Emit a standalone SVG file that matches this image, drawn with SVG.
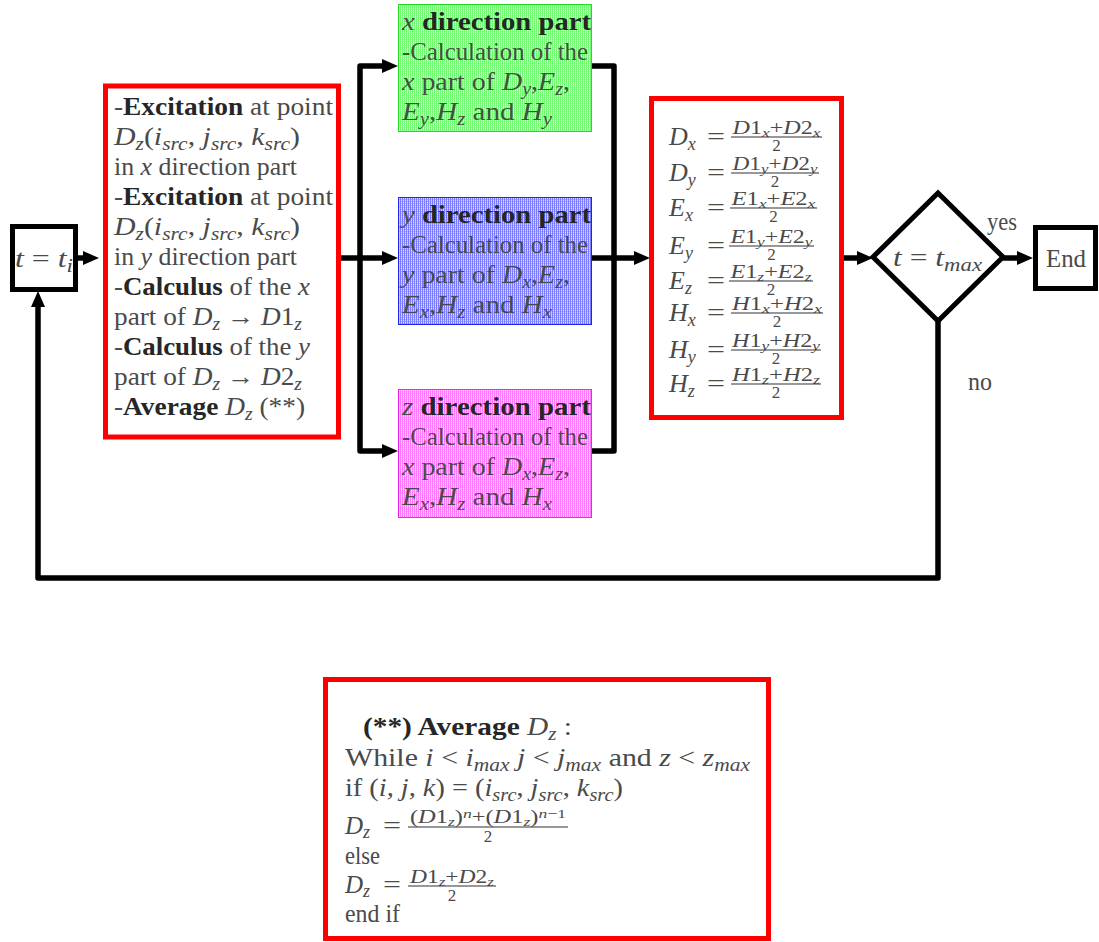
<svg xmlns="http://www.w3.org/2000/svg" width="1099" height="942" viewBox="0 0 1099 942">
<style>
  text { font-family: "Liberation Serif", "DejaVu Serif", serif; font-size: 25px; fill: #4a4a4a; }
  .i { font-style: italic; }
  .b { font-weight: bold; fill: #262626; }
  .sub { font-size: 18px; }
  .lab { font-size: 26px; }
  .n { font-size: 18px; }
  .d { font-size: 17px; }
  .ns { font-size: 13px; }
  .line { fill: none; stroke: #000; stroke-width: 5.5; stroke-linejoin: round; }
  .box { fill: #fff; stroke: #000; stroke-width: 5; }
  .red { fill: #fff; stroke: #f00; stroke-width: 5; }
  .bar { stroke: #333; stroke-width: 1.2; }
</style>
<defs>
  <marker id="arr" markerUnits="userSpaceOnUse" markerWidth="18" markerHeight="16" refX="5" refY="7" orient="auto">
    <path d="M0,0 L16,7 L0,14 z" fill="#000"/>
  </marker>
  <!-- stippled fills -->
  <pattern id="pg" width="2" height="2" patternUnits="userSpaceOnUse">
    <rect width="2" height="2" fill="#d6ffd6"/>
    <rect width="1" height="2" fill="#72fa72"/>
    <rect x="1" y="1" width="1" height="1" fill="#a8fca8"/>
  </pattern>
  <pattern id="pb" width="2" height="2" patternUnits="userSpaceOnUse">
    <rect width="2" height="2" fill="#dcdcff"/>
    <rect width="1" height="2" fill="#7a7aff"/>
    <rect x="1" y="1" width="1" height="1" fill="#b0b0ff"/>
  </pattern>
  <pattern id="pm" width="2" height="2" patternUnits="userSpaceOnUse">
    <rect width="2" height="2" fill="#ffd8ff"/>
    <rect width="1" height="2" fill="#ff78ff"/>
    <rect x="1" y="1" width="1" height="1" fill="#ffb0ff"/>
  </pattern>
</defs>

<!-- connectors -->
<g id="connectors">
  <path class="line" d="M78,258 H88" marker-end="url(#arr)"/>
  <path class="line" d="M341,258 H387" marker-end="url(#arr)"/>
  <path class="line" d="M360,258 V66 H387" marker-end="url(#arr)"/>
  <path class="line" d="M360,258 V451 H387" marker-end="url(#arr)"/>
  <path class="line" d="M592,66 H614 V451 H592"/>
  <path class="line" d="M592,258 H639" marker-end="url(#arr)"/>
  <path class="line" d="M844,258 H862" marker-end="url(#arr)"/>
  <path class="line" d="M1003,258 H1022" marker-end="url(#arr)"/>
  <path class="line" d="M938,321 V578 H38 V302" marker-end="url(#arr)"/>
  <text x="987" y="230" textLength="30" lengthAdjust="spacingAndGlyphs">yes</text>
  <text x="968" y="390" textLength="24" lengthAdjust="spacingAndGlyphs">no</text>
</g>

<!-- start -->
<g id="start">
  <rect class="box" x="12.5" y="226.5" width="63" height="63"/>
  <text x="15" y="267" textLength="58" lengthAdjust="spacingAndGlyphs"><tspan class="i">t</tspan> = <tspan class="i">t</tspan><tspan class="i sub" dy="5">i</tspan></text>
</g>

<!-- excitation / calculus step -->
<g id="excitation">
  <rect class="red" x="105.5" y="86" width="233" height="351"/>
  <text x="114" y="115" textLength="219" lengthAdjust="spacingAndGlyphs">-<tspan class="b">Excitation</tspan> at point</text>
  <text x="114" y="145" textLength="186" lengthAdjust="spacingAndGlyphs"><tspan class="i">D</tspan><tspan class="i sub" dy="5">z</tspan><tspan dy="-5">(</tspan><tspan class="i">i</tspan><tspan class="i sub" dy="5">src</tspan><tspan dy="-5">, </tspan><tspan class="i">j</tspan><tspan class="i sub" dy="5">src</tspan><tspan dy="-5">, </tspan><tspan class="i">k</tspan><tspan class="i sub" dy="5">src</tspan><tspan dy="-5">)</tspan></text>
  <text x="114" y="175" textLength="183" lengthAdjust="spacingAndGlyphs">in <tspan class="i">x</tspan> direction part</text>
  <text x="114" y="205" textLength="219" lengthAdjust="spacingAndGlyphs">-<tspan class="b">Excitation</tspan> at point</text>
  <text x="114" y="235" textLength="186" lengthAdjust="spacingAndGlyphs"><tspan class="i">D</tspan><tspan class="i sub" dy="5">z</tspan><tspan dy="-5">(</tspan><tspan class="i">i</tspan><tspan class="i sub" dy="5">src</tspan><tspan dy="-5">, </tspan><tspan class="i">j</tspan><tspan class="i sub" dy="5">src</tspan><tspan dy="-5">, </tspan><tspan class="i">k</tspan><tspan class="i sub" dy="5">src</tspan><tspan dy="-5">)</tspan></text>
  <text x="114" y="265" textLength="183" lengthAdjust="spacingAndGlyphs">in <tspan class="i">y</tspan> direction part</text>
  <text x="114" y="295" textLength="196" lengthAdjust="spacingAndGlyphs">-<tspan class="b">Calculus</tspan> of the <tspan class="i">x</tspan></text>
  <text x="114" y="325" textLength="188" lengthAdjust="spacingAndGlyphs">part of <tspan class="i">D</tspan><tspan class="i sub" dy="5">z</tspan><tspan dy="-5"> → </tspan><tspan class="i">D</tspan>1<tspan class="i sub" dy="5">z</tspan></text>
  <text x="114" y="355" textLength="196" lengthAdjust="spacingAndGlyphs">-<tspan class="b">Calculus</tspan> of the <tspan class="i">y</tspan></text>
  <text x="114" y="385" textLength="188" lengthAdjust="spacingAndGlyphs">part of <tspan class="i">D</tspan><tspan class="i sub" dy="5">z</tspan><tspan dy="-5"> → </tspan><tspan class="i">D</tspan>2<tspan class="i sub" dy="5">z</tspan></text>
  <text x="114" y="415" textLength="191" lengthAdjust="spacingAndGlyphs">-<tspan class="b">Average</tspan> <tspan class="i">D</tspan><tspan class="i sub" dy="5">z</tspan><tspan dy="-5"> (**)</tspan></text>
</g>

<!-- x direction part -->
<g id="xpart">
  <rect x="398.5" y="4.5" width="193" height="127" fill="url(#pg)" stroke="#22dd22" stroke-width="1"/>
  <text x="402" y="30" textLength="189" lengthAdjust="spacingAndGlyphs"><tspan class="i">x</tspan> <tspan class="b">direction part</tspan></text>
  <text x="402" y="60" textLength="186" lengthAdjust="spacingAndGlyphs">-Calculation of the</text>
  <text x="402" y="90" textLength="168" lengthAdjust="spacingAndGlyphs"><tspan class="i">x</tspan> part of <tspan class="i">D</tspan><tspan class="i sub" dy="5">y</tspan><tspan dy="-5">,</tspan><tspan class="i">E</tspan><tspan class="i sub" dy="5">z</tspan><tspan dy="-5">,</tspan></text>
  <text x="402" y="120" textLength="150" lengthAdjust="spacingAndGlyphs"><tspan class="i">E</tspan><tspan class="i sub" dy="5">y</tspan><tspan dy="-5">,</tspan><tspan class="i">H</tspan><tspan class="i sub" dy="5">z</tspan><tspan dy="-5"> and </tspan><tspan class="i">H</tspan><tspan class="i sub" dy="5">y</tspan></text>
</g>

<!-- y direction part -->
<g id="ypart">
  <rect x="398.5" y="197.5" width="193" height="127" fill="url(#pb)" stroke="#2222ee" stroke-width="1"/>
  <text x="402" y="223" textLength="189" lengthAdjust="spacingAndGlyphs"><tspan class="i">y</tspan> <tspan class="b">direction part</tspan></text>
  <text x="402" y="253" textLength="186" lengthAdjust="spacingAndGlyphs">-Calculation of the</text>
  <text x="402" y="283" textLength="168" lengthAdjust="spacingAndGlyphs"><tspan class="i">y</tspan> part of <tspan class="i">D</tspan><tspan class="i sub" dy="5">x</tspan><tspan dy="-5">,</tspan><tspan class="i">E</tspan><tspan class="i sub" dy="5">z</tspan><tspan dy="-5">,</tspan></text>
  <text x="402" y="313" textLength="150" lengthAdjust="spacingAndGlyphs"><tspan class="i">E</tspan><tspan class="i sub" dy="5">x</tspan><tspan dy="-5">,</tspan><tspan class="i">H</tspan><tspan class="i sub" dy="5">z</tspan><tspan dy="-5"> and </tspan><tspan class="i">H</tspan><tspan class="i sub" dy="5">x</tspan></text>
</g>

<!-- z direction part -->
<g id="zpart">
  <rect x="398.5" y="389.5" width="193" height="128" fill="url(#pm)" stroke="#ee22ee" stroke-width="1"/>
  <text x="402" y="415" textLength="189" lengthAdjust="spacingAndGlyphs"><tspan class="i">z</tspan> <tspan class="b">direction part</tspan></text>
  <text x="402" y="445" textLength="186" lengthAdjust="spacingAndGlyphs">-Calculation of the</text>
  <text x="402" y="475" textLength="168" lengthAdjust="spacingAndGlyphs"><tspan class="i">x</tspan> part of <tspan class="i">D</tspan><tspan class="i sub" dy="5">x</tspan><tspan dy="-5">,</tspan><tspan class="i">E</tspan><tspan class="i sub" dy="5">z</tspan><tspan dy="-5">,</tspan></text>
  <text x="402" y="505" textLength="150" lengthAdjust="spacingAndGlyphs"><tspan class="i">E</tspan><tspan class="i sub" dy="5">x</tspan><tspan dy="-5">,</tspan><tspan class="i">H</tspan><tspan class="i sub" dy="5">z</tspan><tspan dy="-5"> and </tspan><tspan class="i">H</tspan><tspan class="i sub" dy="5">x</tspan></text>
</g>

<!-- averaging of the fields -->
<g id="average">
  <rect class="red" x="651.5" y="98.5" width="190" height="319"/>
  <!-- D_x -->
  <text x="669" y="145" class="lab"><tspan class="i">D</tspan><tspan class="i sub" dy="5">x</tspan></text>
  <text x="707" y="145" textLength="18" lengthAdjust="spacingAndGlyphs">=</text>
  <text x="776.5" y="134" text-anchor="middle" class="n" textLength="88" lengthAdjust="spacingAndGlyphs"><tspan class="i">D</tspan>1<tspan class="i ns" dy="3">x</tspan><tspan dy="-3">+</tspan><tspan class="i">D</tspan>2<tspan class="i ns" dy="3">x</tspan></text>
  <line class="bar" x1="731" y1="137" x2="822" y2="137"/>
  <text x="776.5" y="151" text-anchor="middle" class="d">2</text>
  <!-- D_y -->
  <text x="669" y="181" class="lab"><tspan class="i">D</tspan><tspan class="i sub" dy="5">y</tspan></text>
  <text x="707" y="181" textLength="18" lengthAdjust="spacingAndGlyphs">=</text>
  <text x="775" y="170" text-anchor="middle" class="n" textLength="85" lengthAdjust="spacingAndGlyphs"><tspan class="i">D</tspan>1<tspan class="i ns" dy="3">y</tspan><tspan dy="-3">+</tspan><tspan class="i">D</tspan>2<tspan class="i ns" dy="3">y</tspan></text>
  <line class="bar" x1="731" y1="173" x2="819" y2="173"/>
  <text x="775" y="187" text-anchor="middle" class="d">2</text>
  <!-- E_x -->
  <text x="669" y="216" class="lab"><tspan class="i">E</tspan><tspan class="i sub" dy="5">x</tspan></text>
  <text x="707" y="216" textLength="18" lengthAdjust="spacingAndGlyphs">=</text>
  <text x="773.5" y="205" text-anchor="middle" class="n" textLength="84" lengthAdjust="spacingAndGlyphs"><tspan class="i">E</tspan>1<tspan class="i ns" dy="3">x</tspan><tspan dy="-3">+</tspan><tspan class="i">E</tspan>2<tspan class="i ns" dy="3">x</tspan></text>
  <line class="bar" x1="730" y1="208" x2="817" y2="208"/>
  <text x="773.5" y="222" text-anchor="middle" class="d">2</text>
  <!-- E_y -->
  <text x="669" y="254" class="lab"><tspan class="i">E</tspan><tspan class="i sub" dy="5">y</tspan></text>
  <text x="707" y="254" textLength="18" lengthAdjust="spacingAndGlyphs">=</text>
  <text x="771.5" y="243" text-anchor="middle" class="n" textLength="82" lengthAdjust="spacingAndGlyphs"><tspan class="i">E</tspan>1<tspan class="i ns" dy="3">y</tspan><tspan dy="-3">+</tspan><tspan class="i">E</tspan>2<tspan class="i ns" dy="3">y</tspan></text>
  <line class="bar" x1="729" y1="246" x2="814" y2="246"/>
  <text x="771.5" y="260" text-anchor="middle" class="d">2</text>
  <!-- E_z -->
  <text x="669" y="289" class="lab"><tspan class="i">E</tspan><tspan class="i sub" dy="5">z</tspan></text>
  <text x="707" y="289" textLength="18" lengthAdjust="spacingAndGlyphs">=</text>
  <text x="771" y="278" text-anchor="middle" class="n" textLength="81" lengthAdjust="spacingAndGlyphs"><tspan class="i">E</tspan>1<tspan class="i ns" dy="3">z</tspan><tspan dy="-3">+</tspan><tspan class="i">E</tspan>2<tspan class="i ns" dy="3">z</tspan></text>
  <line class="bar" x1="729" y1="281" x2="813" y2="281"/>
  <text x="771" y="295" text-anchor="middle" class="d">2</text>
  <!-- H_x -->
  <text x="669" y="321" class="lab"><tspan class="i">H</tspan><tspan class="i sub" dy="5">x</tspan></text>
  <text x="707" y="321" textLength="18" lengthAdjust="spacingAndGlyphs">=</text>
  <text x="777" y="310" text-anchor="middle" class="n" textLength="90" lengthAdjust="spacingAndGlyphs"><tspan class="i">H</tspan>1<tspan class="i ns" dy="3">x</tspan><tspan dy="-3">+</tspan><tspan class="i">H</tspan>2<tspan class="i ns" dy="3">x</tspan></text>
  <line class="bar" x1="731" y1="313" x2="823" y2="313"/>
  <text x="777" y="327" text-anchor="middle" class="d">2</text>
  <!-- H_y -->
  <text x="669" y="358" class="lab"><tspan class="i">H</tspan><tspan class="i sub" dy="5">y</tspan></text>
  <text x="707" y="358" textLength="18" lengthAdjust="spacingAndGlyphs">=</text>
  <text x="776" y="347" text-anchor="middle" class="n" textLength="88" lengthAdjust="spacingAndGlyphs"><tspan class="i">H</tspan>1<tspan class="i ns" dy="3">y</tspan><tspan dy="-3">+</tspan><tspan class="i">H</tspan>2<tspan class="i ns" dy="3">y</tspan></text>
  <line class="bar" x1="731" y1="350" x2="821" y2="350"/>
  <text x="776" y="364" text-anchor="middle" class="d">2</text>
  <!-- H_z -->
  <text x="669" y="392" class="lab"><tspan class="i">H</tspan><tspan class="i sub" dy="5">z</tspan></text>
  <text x="707" y="392" textLength="18" lengthAdjust="spacingAndGlyphs">=</text>
  <text x="776" y="381" text-anchor="middle" class="n" textLength="88" lengthAdjust="spacingAndGlyphs"><tspan class="i">H</tspan>1<tspan class="i ns" dy="3">z</tspan><tspan dy="-3">+</tspan><tspan class="i">H</tspan>2<tspan class="i ns" dy="3">z</tspan></text>
  <line class="bar" x1="731" y1="384" x2="821" y2="384"/>
  <text x="776" y="398" text-anchor="middle" class="d">2</text>
</g>

<!-- loop test -->
<g id="test">
  <polygon points="938,193 1003,257 938,321 873,257" fill="#fff" stroke="#000" stroke-width="5"/>
  <text x="893" y="266" textLength="89" lengthAdjust="spacingAndGlyphs"><tspan class="i">t</tspan> = <tspan class="i">t</tspan><tspan class="i sub" dy="5">max</tspan></text>
</g>

<!-- end -->
<g id="end">
  <rect class="box" x="1035.5" y="227.5" width="60" height="61"/>
  <text x="1046" y="267" textLength="40" lengthAdjust="spacingAndGlyphs">End</text>
</g>

<!-- note: averaging of D_z -->
<g id="note">
  <rect class="red" x="325.5" y="679.5" width="443" height="259"/>
  <text x="363" y="735" textLength="209" lengthAdjust="spacingAndGlyphs"><tspan class="b">(**)  Average</tspan> <tspan class="i">D</tspan><tspan class="i sub" dy="5">z</tspan><tspan dy="-5"> :</tspan></text>
  <text x="345" y="766" textLength="405" lengthAdjust="spacingAndGlyphs">While <tspan class="i">i</tspan> &lt; <tspan class="i">i</tspan><tspan class="i sub" dy="5">max</tspan><tspan dy="-5"> </tspan><tspan class="i">j</tspan> &lt; <tspan class="i">j</tspan><tspan class="i sub" dy="5">max</tspan><tspan dy="-5"> and </tspan><tspan class="i">z</tspan> &lt; <tspan class="i">z</tspan><tspan class="i sub" dy="5">max</tspan></text>
  <text x="345" y="796" textLength="278" lengthAdjust="spacingAndGlyphs">if (<tspan class="i">i, j, k</tspan>) = (<tspan class="i">i</tspan><tspan class="i sub" dy="5">src</tspan><tspan dy="-5">, </tspan><tspan class="i">j</tspan><tspan class="i sub" dy="5">src</tspan><tspan dy="-5">, </tspan><tspan class="i">k</tspan><tspan class="i sub" dy="5">src</tspan><tspan dy="-5">)</tspan></text>
  <text x="345" y="834"><tspan class="i">D</tspan><tspan class="i sub" dy="4">z</tspan></text>
  <text x="383" y="834" textLength="18" lengthAdjust="spacingAndGlyphs">=</text>
  <text x="488" y="823" text-anchor="middle" class="n" textLength="156" lengthAdjust="spacingAndGlyphs">(<tspan class="i">D</tspan>1<tspan class="i ns" dy="3">z</tspan><tspan dy="-3">)</tspan><tspan class="i ns" dy="-5">n</tspan><tspan dy="5">+(</tspan><tspan class="i">D</tspan>1<tspan class="i ns" dy="3">z</tspan><tspan dy="-3">)</tspan><tspan class="i ns" dy="-5">n</tspan><tspan class="ns">−1</tspan></text>
  <line class="bar" x1="408" y1="827" x2="568" y2="827"/>
  <text x="488" y="842" text-anchor="middle" class="d">2</text>
  <text x="345" y="864" textLength="35" lengthAdjust="spacingAndGlyphs">else</text>
  <text x="345" y="893"><tspan class="i">D</tspan><tspan class="i sub" dy="4">z</tspan></text>
  <text x="383" y="893" textLength="18" lengthAdjust="spacingAndGlyphs">=</text>
  <text x="452" y="883" text-anchor="middle" class="n" textLength="84" lengthAdjust="spacingAndGlyphs"><tspan class="i">D</tspan>1<tspan class="i ns" dy="3">z</tspan><tspan dy="-3">+</tspan><tspan class="i">D</tspan>2<tspan class="i ns" dy="3">z</tspan></text>
  <line class="bar" x1="408" y1="886" x2="496" y2="886"/>
  <text x="452" y="901" text-anchor="middle" class="d">2</text>
  <text x="345" y="922" textLength="55" lengthAdjust="spacingAndGlyphs">end if</text>
</g>
</svg>
